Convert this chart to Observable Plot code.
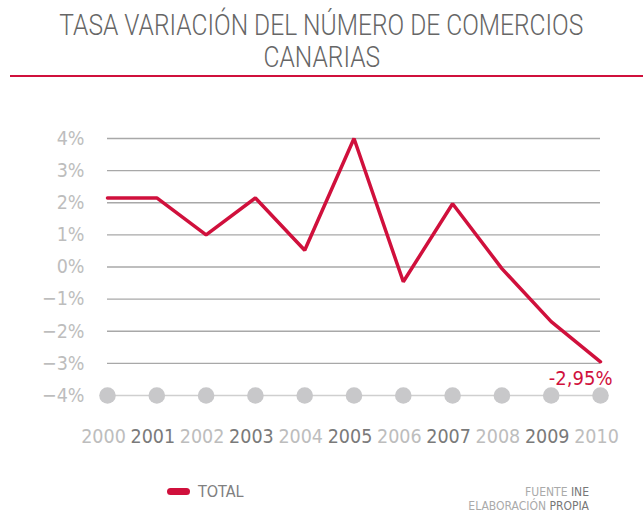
<!DOCTYPE html>
<html><head><meta charset="utf-8">
<script src="https://cdn.jsdelivr.net/npm/d3@7"></script>
<script src="https://cdn.jsdelivr.net/npm/@observablehq/plot@0.6"></script>
<style>
html,body{margin:0;padding:0;background:#fff;}
#wrap{position:relative;width:643px;height:514px;overflow:hidden;font-family:"DejaVu Sans Condensed",Roboto,sans-serif;}
#title{position:absolute;left:0;top:9px;width:643px;text-align:center;color:#666;font-family:Roboto,sans-serif;font-weight:300;font-size:29px;line-height:32px;}
#title span{display:inline-block;white-space:nowrap;transform-origin:center;}
#rule{position:absolute;left:10px;top:75px;width:633px;height:2px;background:#d0103c;}
#chart{position:absolute;left:0;top:0;}
#legend{position:absolute;left:167px;top:482px;color:#808080;font-size:16px;display:flex;align-items:center;}
#legend i{display:inline-block;width:23px;height:7px;border-radius:4px;background:#d0103c;margin-right:8px;}
#foot{position:absolute;right:54px;top:485px;text-align:right;font-size:12px;line-height:14px;color:#aaa;}
#foot b{font-weight:normal;color:#777;}
</style></head>
<body><div id="wrap">
<div id="title"><span>TASA VARIACIÓN DEL NÚMERO DE COMERCIOS</span><br><span>CANARIAS</span></div>
<div id="rule"></div>
<div id="chart"></div>
<div id="legend"><i></i>TOTAL</div>
<div id="foot">FUENTE <b>INE</b><br>ELABORACIÓN <b>PROPIA</b></div>
</div>
<script>
const years = [2000,2001,2002,2003,2004,2005,2006,2007,2008,2009,2010];
const total = [2.15,2.15,1.0,2.15,0.52,4.0,-0.46,1.97,-0.05,-1.7,-2.95];
const yTicks = [-4,-3,-2,-1,0,1,2,3,4];
const data = years.map((y,i)=>({year:y, v:total[i]}));
const last = data[data.length-1];
const red = "#d0103c";
const font = '"DejaVu Sans Condensed",Roboto,sans-serif';

const chart = Plot.plot({
  width: 643, height: 514,
  marginTop: 138, marginBottom: 119, marginLeft: 107, marginRight: 43,
  style: {fontFamily: font, background: "transparent", overflow: "visible"},
  x: {domain: [2000, 2010], axis: null},
  y: {domain: [-4, 4], axis: null},
  marks: [
    Plot.ruleY(yTicks.filter(t => t > -4), {x1: 2000, x2: 2010, stroke: "#a8a8a8", strokeWidth: 1.3}),
    Plot.ruleY([-4], {x1: 2000, x2: 2010, stroke: "#cfcfcf", strokeWidth: 1.5}),
    Plot.dot(years, {x: d => d, y: -4, r: 8.3, fill: "#c8c8ca", stroke: "none"}),
    Plot.text(yTicks, {x: 2000, y: d => d, text: d => (d < 0 ? "−" : "") + Math.abs(d) + "%", textAnchor: "end", dx: -23, fill: "#bdbdbd", fontSize: 19.5}),
    Plot.text(years, {x: d => d, y: -4, text: d => String(d), dy: 41, dx: -4, fill: d => d % 2 ? "#7a7a7a" : "#bdbdbd", fontSize: 19.5}),
    Plot.line(data, {x: "year", y: "v", stroke: red, strokeWidth: 3.5, strokeLinejoin: "miter"}),
    Plot.text([last], {x: "year", y: "v", text: d => d.v.toFixed(2).replace(".", ",") + "%", textAnchor: "end", dx: 12, dy: 17, fill: red, fontSize: 20})
  ]
});
document.getElementById("chart").appendChild(chart);

// fit the title lines to the reference width
const spans = document.querySelectorAll("#title span");
const w0 = spans[0].getBoundingClientRect().width;
const s = 524 / w0;
spans.forEach(sp => sp.style.transform = `scaleX(${s})`);
</script>
</body></html>
